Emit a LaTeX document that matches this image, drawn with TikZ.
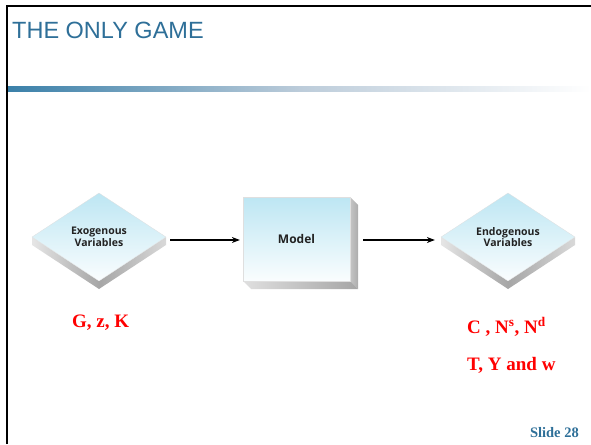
\documentclass[tikz,border=0pt]{standalone}
\usepackage{fontspec}
\setmainfont{Liberation Serif}
\newfontfamily\arialf{Liberation Sans}
\newfontfamily\boxfont{Open Sans}
\usetikzlibrary{shapes.geometric,calc,arrows.meta}
\definecolor{titleblue}{HTML}{2E6F98}
\definecolor{barblue}{HTML}{3A80A9}
\definecolor{barmid}{HTML}{BCCCDA}
\definecolor{facetop}{HTML}{BDE6F3}
\definecolor{facebot}{HTML}{FAFDFE}
\definecolor{boxtext}{HTML}{222222}
\begin{document}
\begin{tikzpicture}[x=1pt,y=-1pt,
  diam/.style={diamond,inner sep=0pt,minimum width=134pt,minimum height=88pt,
    top color=facetop,bottom color=facebot,draw=gray!25,line width=0.3pt,
    font=\boxfont\bfseries\fontsize{10.5pt}{11.5pt}\selectfont,text=boxtext,align=center},
  modelbox/.style={rectangle,inner sep=0pt,minimum width=107pt,minimum height=84pt,
    top color=facetop,bottom color=facebot,draw=gray!25,line width=0.3pt,
    font=\boxfont\bfseries\fontsize{12pt}{14pt}\selectfont,text=boxtext},
  sideL/.style={left color=gray!20,right color=gray!70},
  sideR/.style={left color=gray!70,right color=gray!30},
  arr/.style={line width=1.1pt,-{Stealth[length=8pt,width=6pt]}},
  redtxt/.style={text=red,font=\bfseries\fontsize{19pt}{22pt}\selectfont,inner sep=0pt},
]
\useasboundingbox (0,0) rectangle (591,444);
% frame
\draw[line width=2pt] (7,444) -- (7,6) -- (591,6);
% title
\node[anchor=base west,inner sep=0pt,text=titleblue,font=\arialf\fontsize{23.5pt}{28pt}\selectfont] (title) at (12,39) {THE ONLY GAME};
% gradient bar
\shade[left color=barblue,right color=barmid] (8,86) rectangle (300,91);
\shade[left color=barmid,right color=white] (299.5,86) rectangle (591,91);
% left diamond
\coordinate (exoC) at (99,237);
\path[sideL] ($(exoC)+(-67,0)$) -- ($(exoC)+(0,44)$) -- ($(exoC)+(0,52)$) -- ($(exoC)+(-67,8)$) -- cycle;
\path[sideR] ($(exoC)+(0,44)$) -- ($(exoC)+(67,0)$) -- ($(exoC)+(67,8)$) -- ($(exoC)+(0,52)$) -- cycle;
\node[diam] (exo) at (exoC) {Exogenous\\Variables};
% model box
\coordinate (modC) at (296.5,239);
\path[left color=gray!45,right color=gray!65] ($(modC)+(53.5,-42)$) -- ($(modC)+(61.5,-34)$) -- ($(modC)+(61.5,50)$) -- ($(modC)+(53.5,42)$) -- cycle;
\path[left color=gray!25,right color=gray!70] ($(modC)+(-53.5,42)$) -- ($(modC)+(53.5,42)$) -- ($(modC)+(61.5,50)$) -- ($(modC)+(-45.5,50)$) -- cycle;
\node[modelbox] (model) at (modC) {Model};
% right diamond
\coordinate (endoC) at (508,237);
\path[sideL] ($(endoC)+(-67,0)$) -- ($(endoC)+(0,44)$) -- ($(endoC)+(0,52)$) -- ($(endoC)+(-67,8)$) -- cycle;
\path[sideR] ($(endoC)+(0,44)$) -- ($(endoC)+(67,0)$) -- ($(endoC)+(67,8)$) -- ($(endoC)+(0,52)$) -- cycle;
\node[diam] (endo) at (endoC) {Endogenous\\Variables};
% arrows
\draw[arr] ([shift={(4,3)}]exo.east) -- ([shift={(-3,1)}]model.west);
\draw[arr] ([shift={(13,1)}]model.east) -- ([shift={(-6,3)}]endo.west);
% labels
\node[redtxt,anchor=base west] (exog) at (72,327) {G, z, K};
\node[redtxt,anchor=base west] (endog1) at (467,333) {C , N\textsuperscript{s}, N\textsuperscript{d}};
\node[redtxt,anchor=base west] (endog2) at (467,370) {T, Y and w};
\node[anchor=base east,inner sep=0pt,text=titleblue,font=\bfseries\fontsize{14.5pt}{17pt}\selectfont] (slide) at (579,437) {Slide 28};
\end{tikzpicture}
\end{document}
